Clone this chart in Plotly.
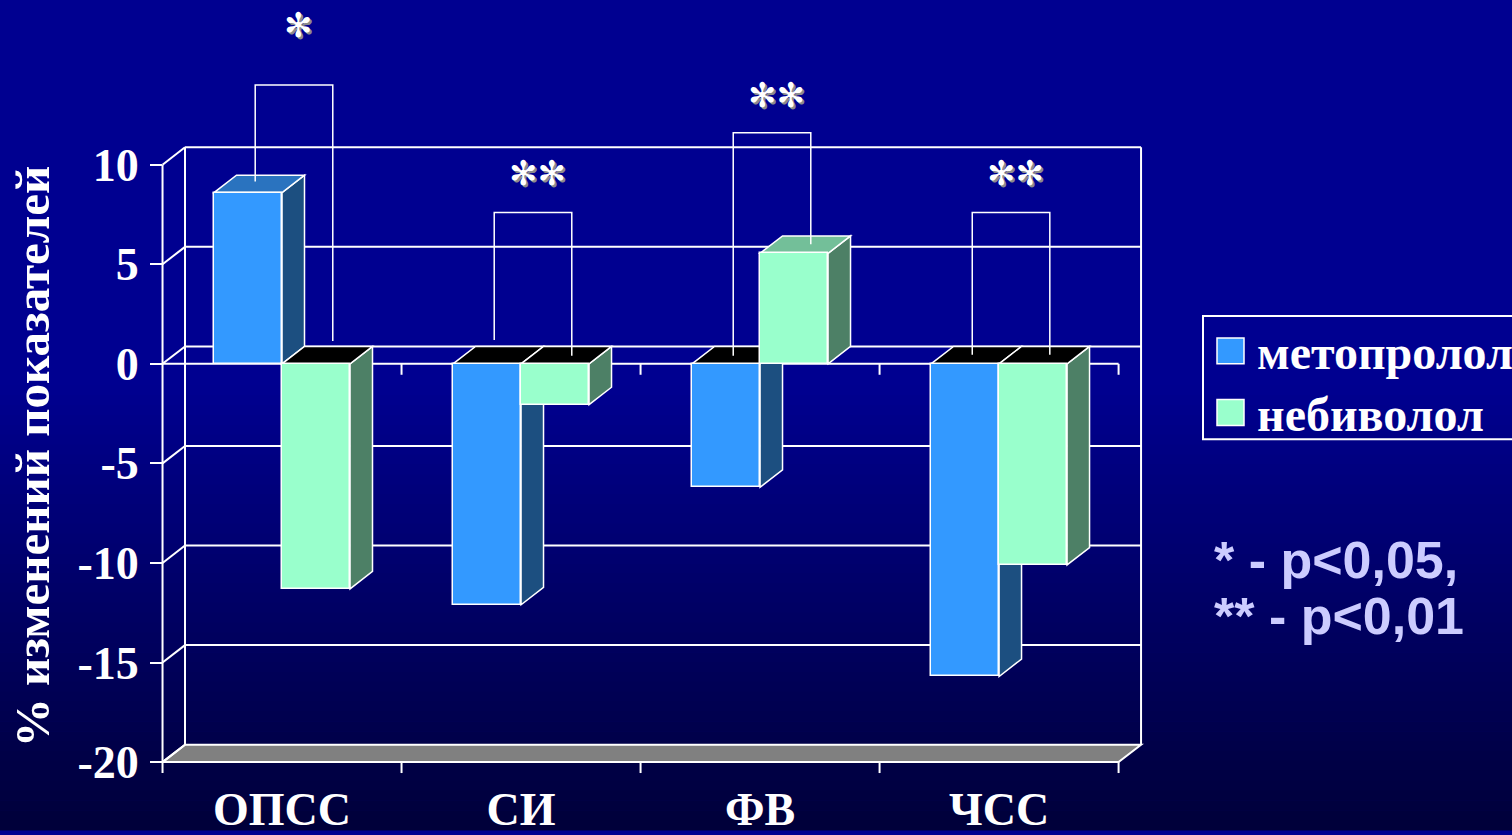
import plotly.graph_objects as go

# ---------------- data ----------------
categories = ["ОПСС", "СИ", "ФВ", "ЧСС"]
series_names = ["метопролол", "небиволол"]
metoprolol = [8.6, -12.1, -6.2, -15.7]
nebivolol = [-11.3, -2.05, 5.55, -10.1]
y_tick_vals = [10, 5, 0, -5, -10, -15, -20]
y_tick_text = ["10", "5", "0", "-5", "-10", "-15", "-20"]
bracket_top = [14.0, 7.6, 11.6, 7.6]
bracket_left_end = [9.15, 1.2, 0.4, 0.45]
bracket_right_end = [1.15, 0.4, 6.0, 0.45]
sig_marks = ["✻", "✻✻", "✻✻", "✻✻"]
sig_level = [17.0, 9.6, 13.5, 9.6]
p_notes = ["* - p<0,05,", "** - p<0,01"]

# ---------------- styling / geometry ----------------
W, H = 1512, 835
FONT = "Liberation Serif, Times New Roman, serif"
front_cols = ["#3399ff", "#99ffcc"]
side_cols = ["#1c4f80", "#4d8066"]
top_cols = ["#2a73bf", "#73bf99"]
BAR_W = 0.2845
DX = 0.094      # depth in x units
DY = 0.874      # depth in y units
X_RANGE = [-1.180, 5.146]
Y_RANGE = [-23.41, 18.27]
YMIN, YMAX = min(y_tick_vals), max(y_tick_vals)
LEFT = -0.5
RIGHT = len(categories) - 0.5
LW = 2


def px_x(p):
    return p / W


def px_y(p):
    return 1 - p / H


def poly(pts):
    return "M " + " L ".join(f"{x:.4f},{y:.4f}" for x, y in pts) + " Z"


shapes = []

# gradient background
N = 84
top_rgb = (0, 0, 144)
bot_rgb = (0, 0, 56)
for k in range(N):
    y0 = k * H / N
    y1 = (k + 1) * H / N
    t = max(0.0, (y0 - 380) / (H - 380))
    c = tuple(int(round(a + (b - a) * t)) for a, b in zip(top_rgb, bot_rgb))
    shapes.append(dict(type="rect", xref="paper", yref="paper", x0=0, x1=1,
                       y0=px_y(y1 + 0.5), y1=px_y(y0), layer="below",
                       line=dict(width=0), fillcolor=f"rgb{c}"))

# floor
shapes.append(dict(type="path", layer="below", xref="x", yref="y",
                   path=poly([(LEFT, YMIN), (RIGHT, YMIN), (RIGHT + DX, YMIN + DY), (LEFT + DX, YMIN + DY)]),
                   fillcolor="#808080", line=dict(color="white", width=LW)))
# back wall gridlines
for v in y_tick_vals:
    if v == YMIN:
        continue
    shapes.append(dict(type="line", layer="below", xref="x", yref="y",
                       x0=LEFT + DX, x1=RIGHT + DX, y0=v + DY, y1=v + DY,
                       line=dict(color="white", width=LW)))
# back wall verticals
for xv in (LEFT + DX, RIGHT + DX):
    shapes.append(dict(type="line", layer="below", xref="x", yref="y",
                       x0=xv, x1=xv, y0=YMIN + DY, y1=YMAX + DY,
                       line=dict(color="white", width=LW)))
# left wall: front vertical + diagonals
shapes.append(dict(type="line", layer="below", xref="x", yref="y",
                   x0=LEFT, x1=LEFT, y0=YMIN - 0.55, y1=YMAX,
                   line=dict(color="white", width=LW)))
for v in y_tick_vals:
    shapes.append(dict(type="line", layer="below", xref="x", yref="y",
                       x0=LEFT, x1=LEFT + DX, y0=v, y1=v + DY,
                       line=dict(color="white", width=LW)))
# front lines at 0 and at floor, with category boundary ticks
for v in (0, YMIN):
    shapes.append(dict(type="line", layer="below", xref="x", yref="y",
                       x0=LEFT, x1=RIGHT, y0=v, y1=v,
                       line=dict(color="white", width=LW)))
    for i in range(len(categories)):
        b = i + 0.5
        shapes.append(dict(type="line", layer="below", xref="x", yref="y",
                           x0=b, x1=b, y0=v, y1=v - 0.55,
                           line=dict(color="white", width=LW)))

# 3D faces of the bars (side and top faces); front faces are Bar traces
series = [metoprolol, nebivolol]
offsets = [-BAR_W, 0.0]
for i in range(len(categories)):
    for s, vals in enumerate(series):
        v = vals[i]
        x0 = i + offsets[s]
        x1 = x0 + BAR_W
        # side face
        shapes.append(dict(type="path", layer="below", xref="x", yref="y",
                           path=poly([(x1, 0), (x1 + DX, DY), (x1 + DX, v + DY), (x1, v)]),
                           fillcolor=side_cols[s], line=dict(color="white", width=1.5)))
        # top face
        ty = max(v, 0)
        shapes.append(dict(type="path", layer="below", xref="x", yref="y",
                           path=poly([(x0, ty), (x1, ty), (x1 + DX, ty + DY), (x0 + DX, ty + DY)]),
                           fillcolor=top_cols[s] if v > 0 else "#000000",
                           line=dict(color="white", width=1.5)))

# significance brackets
for i in range(len(categories)):
    xl = i - BAR_W / 2 + 0.03
    xr = i + BAR_W / 2 + 0.07
    shapes.append(dict(type="path", layer="above", xref="x", yref="y",
                       path=f"M {xl},{bracket_left_end[i]} L {xl},{bracket_top[i]} L {xr},{bracket_top[i]} L {xr},{bracket_right_end[i]}",
                       line=dict(color="white", width=1.5)))

# legend box
shapes.append(dict(type="rect", xref="paper", yref="paper", layer="above",
                   x0=px_x(1203), x1=px_x(1540), y0=px_y(442), y1=px_y(318),
                   line=dict(color="white", width=2), fillcolor="rgba(0,0,0,0)"))
legend_rows = [353, 415]
for s in range(2):
    cy = legend_rows[s]
    shapes.append(dict(type="rect", xref="paper", yref="paper", layer="above",
                       x0=px_x(1217), x1=px_x(1244), y0=px_y(cy + 13), y1=px_y(cy - 13),
                       line=dict(color="white", width=1.5), fillcolor=front_cols[s]))

fig = go.Figure()
for s, vals in enumerate(series):
    fig.add_trace(go.Bar(
        x=list(range(len(categories))), y=vals, base=0,
        width=BAR_W, offset=offsets[s], name=series_names[s],
        marker=dict(color=front_cols[s], line=dict(color="white", width=1.5)),
        showlegend=False, hoverinfo="skip"))

annotations = []
# y axis title
annotations.append(dict(xref="paper", yref="paper", x=px_x(32), y=px_y(460),
                        xanchor="center", yanchor="middle",
                        text="% изменений показателей", textangle=-90, showarrow=False,
                        font=dict(family=FONT, size=49, color="white", weight="bold")))
# legend labels
for s in range(2):
    annotations.append(dict(xref="paper", yref="paper", x=px_x(1255), y=px_y(legend_rows[s] + 2),
                            xanchor="left", yanchor="middle", text=series_names[s], showarrow=False,
                            font=dict(family=FONT, size=48, color="white", weight="bold")))
# p-value notes
for k, t in enumerate(p_notes):
    annotations.append(dict(xref="paper", yref="paper", x=px_x(1212), y=px_y(563 + 57 * k),
                            xanchor="left", yanchor="middle", text=t, showarrow=False,
                            font=dict(family="Liberation Sans, Arial, sans-serif", size=52,
                                      color="#ccccff", weight="bold")))
# stars with shadow
for i in range(len(categories)):
    xs = i + 0.07
    for col, sh in (("#8c8c8c", 2), ("white", 0)):
        annotations.append(dict(xref="x", yref="y", x=xs, y=sig_level[i], text=sig_marks[i],
                                showarrow=False, xshift=sh, yshift=-sh,
                                font=dict(family="DejaVu Sans", size=34, color=col)))

tickfont = dict(family=FONT, size=46, color="white", weight="bold")
fig.update_layout(
    width=W, height=H, margin=dict(l=0, r=0, t=0, b=0),
    paper_bgcolor="#000090", plot_bgcolor="#000090",
    barmode="overlay", bargap=0,
    shapes=shapes, annotations=annotations, showlegend=False,
    xaxis=dict(domain=[0, 1], range=X_RANGE, anchor="free", position=px_y(765),
               tickmode="array", tickvals=list(range(len(categories))), ticktext=categories,
               ticks="", showgrid=False, zeroline=False, showline=False,
               tickfont=tickfont, ticklabelstandoff=18, fixedrange=True),
    yaxis=dict(domain=[0, 1], range=Y_RANGE, anchor="free", position=px_x(162), side="left",
               tickmode="array", tickvals=y_tick_vals, ticktext=y_tick_text,
               ticks="outside", ticklen=12, tickwidth=2, tickcolor="white",
               showgrid=False, zeroline=False, showline=False,
               tickfont=tickfont, ticklabelstandoff=2, fixedrange=True),
)

fig.write_html("out.html")
